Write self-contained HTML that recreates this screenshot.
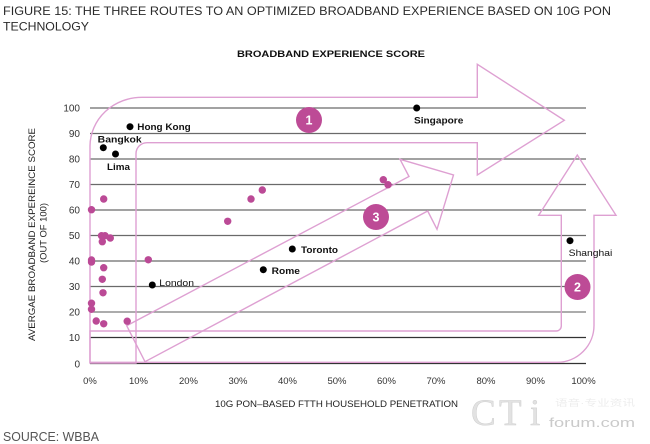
<!DOCTYPE html>
<html>
<head>
<meta charset="utf-8">
<style>
  html,body{margin:0;padding:0;background:#fff;}
  svg{display:block;}
  text{font-family:"Liberation Sans","Noto Sans CJK SC",sans-serif;}
</style>
</head>
<body>
<svg width="650" height="444" viewBox="0 0 650 444" xmlns="http://www.w3.org/2000/svg">
  <rect width="650" height="444" fill="#fff"/>

  <!-- Title -->
  <text x="3" y="15" font-size="12" fill="#2a2a2a" textLength="608" lengthAdjust="spacingAndGlyphs">FIGURE 15: THE THREE ROUTES TO AN OPTIMIZED BROADBAND EXPERIENCE BASED ON 10G PON</text>
  <text x="3" y="30.7" font-size="12" fill="#2a2a2a" textLength="86" lengthAdjust="spacingAndGlyphs">TECHNOLOGY</text>

  <!-- Chart title -->
  <text x="237" y="57" font-size="9.5" font-weight="bold" fill="#111" textLength="188" lengthAdjust="spacingAndGlyphs">BROADBAND EXPERIENCE SCORE</text>

  <!-- Gridlines -->
  <g stroke-width="1.3">
    <line x1="90" y1="108" x2="586" y2="108" stroke="#6a6a6a"/>
    <line x1="90" y1="133.5" x2="586" y2="133.5" stroke="#6a6a6a"/>
    <line x1="90" y1="159" x2="586" y2="159" stroke="#6a6a6a"/>
    <line x1="90" y1="184.5" x2="586" y2="184.5" stroke="#6a6a6a"/>
    <line x1="90" y1="210" x2="586" y2="210" stroke="#6a6a6a"/>
    <line x1="90" y1="235.5" x2="586" y2="235.5" stroke="#6a6a6a"/>
    <line x1="90" y1="261" x2="586" y2="261" stroke="#6a6a6a"/>
    <line x1="90" y1="286.5" x2="586" y2="286.5" stroke="#6a6a6a"/>
    <line x1="90" y1="312" x2="586" y2="312" stroke="#7a7a7a"/>
    <line x1="90" y1="337.5" x2="586" y2="337.5" stroke="#333"/>
    <line x1="90" y1="363.5" x2="586" y2="363.5" stroke="#333"/>
  </g>

  <!-- Y tick labels -->
  <g font-size="10" fill="#333" text-anchor="end">
    <text x="80" y="111.5">100</text>
    <text x="80" y="137">90</text>
    <text x="80" y="162.5">80</text>
    <text x="80" y="188">70</text>
    <text x="80" y="213.5">60</text>
    <text x="80" y="239">50</text>
    <text x="80" y="264.5">40</text>
    <text x="80" y="290">30</text>
    <text x="80" y="315.5">20</text>
    <text x="80" y="341">10</text>
    <text x="80" y="367.5">0</text>
  </g>

  <!-- X tick labels -->
  <g font-size="9.5" fill="#333" text-anchor="middle">
    <text x="90" y="384">0%</text>
    <text x="138.5" y="384">10%</text>
    <text x="188.5" y="384">20%</text>
    <text x="238" y="384">30%</text>
    <text x="287.5" y="384">40%</text>
    <text x="337" y="384">50%</text>
    <text x="386.5" y="384">60%</text>
    <text x="436" y="384">70%</text>
    <text x="486" y="384">80%</text>
    <text x="535.5" y="384">90%</text>
    <text x="583.5" y="384">100%</text>
  </g>

  <!-- Axis titles -->
  <text x="215" y="407" font-size="9" fill="#222" textLength="243" lengthAdjust="spacingAndGlyphs">10G PON–BASED FTTH HOUSEHOLD PENETRATION</text>
  <text transform="translate(35,234.5) rotate(-90)" font-size="9" fill="#222" text-anchor="middle" textLength="213" lengthAdjust="spacingAndGlyphs">AVERGAE BROADBAND EXPEREINCE SCORE</text>
  <text transform="translate(46.6,233) rotate(-90)" font-size="9" fill="#222" text-anchor="middle" textLength="60" lengthAdjust="spacingAndGlyphs">(OUT OF 100)</text>

  <!-- Arrows -->
  <g fill="none" stroke="#dea0d2" stroke-width="1.4" stroke-linejoin="miter">
    <!-- Arrow 1 -->
    <path d="M90,363 L90,146 A52,49 0 0 1 142,97.3 L477.3,97.3 L477.3,64.3 L564.3,120.3 L477.3,175 L477.3,142.7 L147,142.7 A11,11 0 0 0 136,153.7 L136,363 Z"/>
    <!-- Arrow 2 -->
    <path d="M90,331 L556,331 A5,5 0 0 0 561.3,326 L561.3,215.3 L538.7,215.3 L577.3,155 L616,215.3 L594,215.3 L594,325 A37,37 0 0 1 557,362.3 L90,362.3 Z"/>
    <!-- Arrow 3 -->
    <path d="M126.7,325.7 L409,176.5 L400,159.3 L453.5,175 L437,229.3 L427.7,211 L145,361.7 Z"/>
  </g>

  <!-- Pink dots -->
  <g fill="#bb4a96">
    <circle cx="103.7" cy="199" r="3.7"/>
    <circle cx="91.5" cy="209.7" r="3.7"/>
    <circle cx="101.5" cy="235.7" r="3.7"/>
    <circle cx="105" cy="235.7" r="3.7"/>
    <circle cx="102.3" cy="241.7" r="3.7"/>
    <circle cx="110.3" cy="238" r="3.7"/>
    <circle cx="91.5" cy="260" r="3.7"/>
    <circle cx="91.5" cy="262" r="3.7"/>
    <circle cx="103.7" cy="267.7" r="3.7"/>
    <circle cx="102.3" cy="279.3" r="3.7"/>
    <circle cx="103" cy="292.8" r="3.7"/>
    <circle cx="91.5" cy="303.2" r="3.7"/>
    <circle cx="91.5" cy="309.3" r="3.7"/>
    <circle cx="96.2" cy="321" r="3.7"/>
    <circle cx="103.7" cy="323.8" r="3.7"/>
    <circle cx="127.2" cy="321.2" r="3.7"/>
    <circle cx="148.3" cy="259.8" r="3.7"/>
    <circle cx="227.7" cy="221.3" r="3.7"/>
    <circle cx="251" cy="199" r="3.7"/>
    <circle cx="262.3" cy="190" r="3.7"/>
    <circle cx="383.3" cy="179.7" r="3.7"/>
    <circle cx="388" cy="184.7" r="3.7"/>
  </g>

  <!-- Black dots -->
  <g fill="#000">
    <circle cx="130" cy="126.7" r="3.5"/>
    <circle cx="103.3" cy="147.7" r="3.5"/>
    <circle cx="115.5" cy="154" r="3.5"/>
    <circle cx="416.7" cy="108" r="3.5"/>
    <circle cx="152.3" cy="285" r="3.5"/>
    <circle cx="292.3" cy="249" r="3.5"/>
    <circle cx="263.3" cy="269.7" r="3.5"/>
    <circle cx="570" cy="240.7" r="3.5"/>
  </g>

  <!-- Labels -->
  <g font-size="9.5" fill="#111">
    <text x="137.3" y="130" font-weight="bold" textLength="53.4" lengthAdjust="spacingAndGlyphs">Hong Kong</text>
    <text x="97.7" y="142.5" font-weight="bold" textLength="44" lengthAdjust="spacingAndGlyphs">Bangkok</text>
    <text x="107" y="170" font-weight="bold" textLength="23" lengthAdjust="spacingAndGlyphs">Lima</text>
    <text x="414" y="123.5" font-weight="bold" textLength="49.3" lengthAdjust="spacingAndGlyphs">Singapore</text>
    <text x="159.3" y="285.8" textLength="34.7" lengthAdjust="spacingAndGlyphs">London</text>
    <text x="301" y="253" font-weight="bold" textLength="37" lengthAdjust="spacingAndGlyphs">Toronto</text>
    <text x="271.7" y="274" font-weight="bold" textLength="28.3" lengthAdjust="spacingAndGlyphs">Rome</text>
    <text x="568.7" y="256" textLength="43.6" lengthAdjust="spacingAndGlyphs">Shanghai</text>
  </g>

  <!-- Numbered circles -->
  <g>
    <circle cx="309" cy="120" r="13" fill="#bd4b96"/>
    <text x="309" y="124.5" font-size="12.5" font-weight="bold" fill="#fff" text-anchor="middle">1</text>
    <circle cx="376" cy="217" r="13" fill="#bd4b96"/>
    <text x="376" y="221.5" font-size="12.5" font-weight="bold" fill="#fff" text-anchor="middle">3</text>
    <circle cx="577.5" cy="287" r="13" fill="#bd4b96"/>
    <text x="577.5" y="291.5" font-size="12.5" font-weight="bold" fill="#fff" text-anchor="middle">2</text>
  </g>

  <!-- Source -->
  <text x="3" y="441" font-size="12.5" fill="#555" textLength="96" lengthAdjust="spacingAndGlyphs">SOURCE: WBBA</text>

  <!-- Watermark -->
  <g fill="#e2e2e2" stroke="#cfcfcf" stroke-width="0.5" font-family="Liberation Serif, serif">
    <text x="471" y="425" font-size="37" style="font-family:'Liberation Serif',serif">C</text>
    <text x="499" y="425" font-size="37" style="font-family:'Liberation Serif',serif">T</text>
    <text x="530" y="425" font-size="37" style="font-family:'Liberation Serif',serif">i</text>
  </g>
  <text x="549" y="427" font-size="12.5" fill="#cacaca" textLength="86" lengthAdjust="spacingAndGlyphs">forum.com</text>
  <text x="555" y="406" font-size="9" fill="#ededed" textLength="80" lengthAdjust="spacingAndGlyphs" style="font-family:'Liberation Sans','Noto Sans CJK SC',sans-serif">语音·专业资讯</text>
</svg>
</body>
</html>
